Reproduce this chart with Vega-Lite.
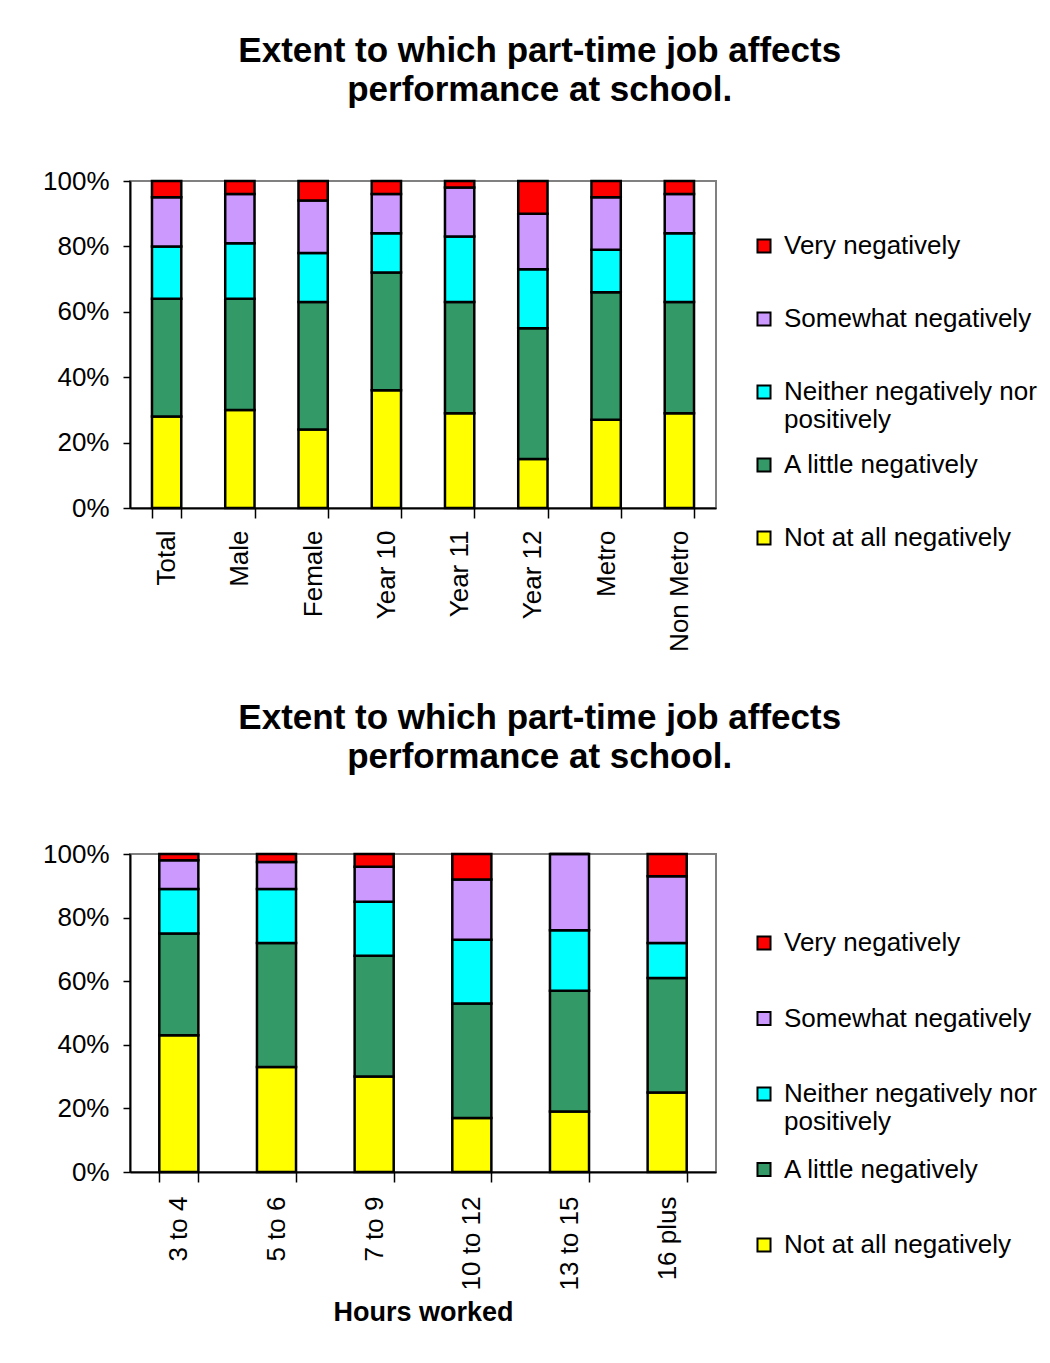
{
  "$schema": "https://vega.github.io/schema/vega-lite/v6.json",
  "background": "white",
  "padding": {"left": 41, "top": 33, "right": 5, "bottom": 5},
  "spacing": 47,
  "config": {
    "font": "Liberation Sans",
    "view": {"stroke": "#808080", "strokeWidth": 2},
    "axis": {"labelFont": "Liberation Sans", "labelFontSize": 26, "labelColor": "#000", "domainColor": "#000", "domainWidth": 2, "tickColor": "#000", "tickWidth": 1.5, "grid": false, "titleFont": "Liberation Sans", "titleColor": "#000"},
    "legend": {"labelFont": "Liberation Sans", "labelFontSize": 26, "labelColor": "#000", "labelLimit": 400},
    "title": {"font": "Liberation Sans", "fontSize": 35, "fontWeight": "bold", "color": "#000", "anchor": "middle", "frame": "bounds", "lineHeight": 39}
  },
  "resolve": {"legend": {"color": "independent"}},
  "datasets": {
    "groups": [
      {"group": "Total", "response": "Not at all negatively", "level": 1, "pct": 28},
      {"group": "Total", "response": "A little negatively", "level": 2, "pct": 36},
      {"group": "Total", "response": "Neither negatively nor positively", "level": 3, "pct": 16},
      {"group": "Total", "response": "Somewhat negatively", "level": 4, "pct": 15},
      {"group": "Total", "response": "Very negatively", "level": 5, "pct": 5},
      {"group": "Male", "response": "Not at all negatively", "level": 1, "pct": 30},
      {"group": "Male", "response": "A little negatively", "level": 2, "pct": 34},
      {"group": "Male", "response": "Neither negatively nor positively", "level": 3, "pct": 17},
      {"group": "Male", "response": "Somewhat negatively", "level": 4, "pct": 15},
      {"group": "Male", "response": "Very negatively", "level": 5, "pct": 4},
      {"group": "Female", "response": "Not at all negatively", "level": 1, "pct": 24},
      {"group": "Female", "response": "A little negatively", "level": 2, "pct": 39},
      {"group": "Female", "response": "Neither negatively nor positively", "level": 3, "pct": 15},
      {"group": "Female", "response": "Somewhat negatively", "level": 4, "pct": 16},
      {"group": "Female", "response": "Very negatively", "level": 5, "pct": 6},
      {"group": "Year 10", "response": "Not at all negatively", "level": 1, "pct": 36},
      {"group": "Year 10", "response": "A little negatively", "level": 2, "pct": 36},
      {"group": "Year 10", "response": "Neither negatively nor positively", "level": 3, "pct": 12},
      {"group": "Year 10", "response": "Somewhat negatively", "level": 4, "pct": 12},
      {"group": "Year 10", "response": "Very negatively", "level": 5, "pct": 4},
      {"group": "Year 11", "response": "Not at all negatively", "level": 1, "pct": 29},
      {"group": "Year 11", "response": "A little negatively", "level": 2, "pct": 34},
      {"group": "Year 11", "response": "Neither negatively nor positively", "level": 3, "pct": 20},
      {"group": "Year 11", "response": "Somewhat negatively", "level": 4, "pct": 15},
      {"group": "Year 11", "response": "Very negatively", "level": 5, "pct": 2},
      {"group": "Year 12", "response": "Not at all negatively", "level": 1, "pct": 15},
      {"group": "Year 12", "response": "A little negatively", "level": 2, "pct": 40},
      {"group": "Year 12", "response": "Neither negatively nor positively", "level": 3, "pct": 18},
      {"group": "Year 12", "response": "Somewhat negatively", "level": 4, "pct": 17},
      {"group": "Year 12", "response": "Very negatively", "level": 5, "pct": 10},
      {"group": "Metro", "response": "Not at all negatively", "level": 1, "pct": 27},
      {"group": "Metro", "response": "A little negatively", "level": 2, "pct": 39},
      {"group": "Metro", "response": "Neither negatively nor positively", "level": 3, "pct": 13},
      {"group": "Metro", "response": "Somewhat negatively", "level": 4, "pct": 16},
      {"group": "Metro", "response": "Very negatively", "level": 5, "pct": 5},
      {"group": "Non Metro", "response": "Not at all negatively", "level": 1, "pct": 29},
      {"group": "Non Metro", "response": "A little negatively", "level": 2, "pct": 34},
      {"group": "Non Metro", "response": "Neither negatively nor positively", "level": 3, "pct": 21},
      {"group": "Non Metro", "response": "Somewhat negatively", "level": 4, "pct": 12},
      {"group": "Non Metro", "response": "Very negatively", "level": 5, "pct": 4}
    ],
    "hours": [
      {"hours": "3 to 4", "response": "Not at all negatively", "level": 1, "pct": 43},
      {"hours": "3 to 4", "response": "A little negatively", "level": 2, "pct": 32},
      {"hours": "3 to 4", "response": "Neither negatively nor positively", "level": 3, "pct": 14},
      {"hours": "3 to 4", "response": "Somewhat negatively", "level": 4, "pct": 9},
      {"hours": "3 to 4", "response": "Very negatively", "level": 5, "pct": 2},
      {"hours": "5 to 6", "response": "Not at all negatively", "level": 1, "pct": 33},
      {"hours": "5 to 6", "response": "A little negatively", "level": 2, "pct": 39},
      {"hours": "5 to 6", "response": "Neither negatively nor positively", "level": 3, "pct": 17},
      {"hours": "5 to 6", "response": "Somewhat negatively", "level": 4, "pct": 8.5},
      {"hours": "5 to 6", "response": "Very negatively", "level": 5, "pct": 2.5},
      {"hours": "7 to 9", "response": "Not at all negatively", "level": 1, "pct": 30},
      {"hours": "7 to 9", "response": "A little negatively", "level": 2, "pct": 38},
      {"hours": "7 to 9", "response": "Neither negatively nor positively", "level": 3, "pct": 17},
      {"hours": "7 to 9", "response": "Somewhat negatively", "level": 4, "pct": 11},
      {"hours": "7 to 9", "response": "Very negatively", "level": 5, "pct": 4},
      {"hours": "10 to 12", "response": "Not at all negatively", "level": 1, "pct": 17},
      {"hours": "10 to 12", "response": "A little negatively", "level": 2, "pct": 36},
      {"hours": "10 to 12", "response": "Neither negatively nor positively", "level": 3, "pct": 20},
      {"hours": "10 to 12", "response": "Somewhat negatively", "level": 4, "pct": 19},
      {"hours": "10 to 12", "response": "Very negatively", "level": 5, "pct": 8},
      {"hours": "13 to 15", "response": "Not at all negatively", "level": 1, "pct": 19},
      {"hours": "13 to 15", "response": "A little negatively", "level": 2, "pct": 38},
      {"hours": "13 to 15", "response": "Neither negatively nor positively", "level": 3, "pct": 19},
      {"hours": "13 to 15", "response": "Somewhat negatively", "level": 4, "pct": 24},
      {"hours": "13 to 15", "response": "Very negatively", "level": 5, "pct": 0},
      {"hours": "16 plus", "response": "Not at all negatively", "level": 1, "pct": 25},
      {"hours": "16 plus", "response": "A little negatively", "level": 2, "pct": 36},
      {"hours": "16 plus", "response": "Neither negatively nor positively", "level": 3, "pct": 11},
      {"hours": "16 plus", "response": "Somewhat negatively", "level": 4, "pct": 21},
      {"hours": "16 plus", "response": "Very negatively", "level": 5, "pct": 7}
    ]
  },
  "vconcat": [
    {
      "data": {"name": "groups"},
      "width": 586,
      "height": 327,
      "title": {"text": ["Extent to which part-time job affects", "performance at school."], "offset": 60},
      "mark": {"type": "bar", "stroke": "#000", "strokeWidth": 2.5},
      "encoding": {
        "x": {"field": "group", "type": "nominal", "sort": null, "title": null,
              "scale": {"paddingInner": 0.6, "paddingOuter": 0.3},
              "axis": {"labelAngle": -90, "tickBand": "extent", "tickSize": 10, "labelPadding": 12}},
        "y": {"field": "pct", "type": "quantitative", "stack": "normalize", "title": null,
              "scale": {"domain": [0, 1]},
              "axis": {"format": ".0%", "values": [0, 0.2, 0.4, 0.6, 0.8, 1], "tickSize": 7, "labelPadding": 14}},
        "order": {"field": "level", "type": "quantitative", "sort": "ascending"},
        "color": {"field": "response", "type": "nominal",
                  "scale": {"domain": ["Very negatively", "Somewhat negatively", "Neither negatively nor positively", "A little negatively", "Not at all negatively"],
                            "range": ["#FF0000", "#CC99FF", "#00FFFF", "#339966", "#FFFF00"]},
                  "legend": {"title": null, "orient": "none", "legendX": 621, "legendY": 52,
                             "symbolType": "square", "symbolSize": 170, "symbolStrokeColor": "#000", "symbolStrokeWidth": 2,
                             "gridAlign": "all", "rowPadding": 19, "labelOffset": 7,
                             "labelExpr": "datum.label == 'Neither negatively nor positively' ? ['Neither negatively nor', 'positively'] : datum.label"}}
      }
    },
    {
      "data": {"name": "hours"},
      "width": 586,
      "height": 318,
      "title": {"text": ["Extent to which part-time job affects", "performance at school."], "offset": 66},
      "mark": {"type": "bar", "stroke": "#000", "strokeWidth": 2.5},
      "encoding": {
        "x": {"field": "hours", "type": "nominal", "sort": null, "title": "Hours worked",
              "scale": {"paddingInner": 0.6, "paddingOuter": 0.3},
              "axis": {"labelAngle": -90, "tickBand": "extent", "tickSize": 10, "labelPadding": 14, "titleFontSize": 27, "titleFontWeight": "bold", "titlePadding": 10}},
        "y": {"field": "pct", "type": "quantitative", "stack": "normalize", "title": null,
              "scale": {"domain": [0, 1]},
              "axis": {"format": ".0%", "values": [0, 0.2, 0.4, 0.6, 0.8, 1], "tickSize": 7, "labelPadding": 14}},
        "order": {"field": "level", "type": "quantitative", "sort": "ascending"},
        "color": {"field": "response", "type": "nominal",
                  "scale": {"domain": ["Very negatively", "Somewhat negatively", "Neither negatively nor positively", "A little negatively", "Not at all negatively"],
                            "range": ["#FF0000", "#CC99FF", "#00FFFF", "#339966", "#FFFF00"]},
                  "legend": {"title": null, "orient": "none", "legendX": 621, "legendY": 76,
                             "symbolType": "square", "symbolSize": 170, "symbolStrokeColor": "#000", "symbolStrokeWidth": 2,
                             "gridAlign": "all", "rowPadding": 21.5, "labelOffset": 7,
                             "labelExpr": "datum.label == 'Neither negatively nor positively' ? ['Neither negatively nor', 'positively'] : datum.label"}}
      }
    }
  ]
}
